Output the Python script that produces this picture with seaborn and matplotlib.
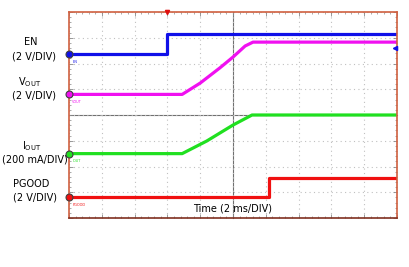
import matplotlib
matplotlib.use("Agg")
import matplotlib.pyplot as plt
import seaborn as sns
import numpy as np
import pandas as pd

sns.set_theme(style="white")
plt.rcParams['font.family'] = ['DejaVu Sans']
plt.rcParams['text.color'] = 'black'

# Data in scope divisions (x: 0..10 div, 2 ms/div; y: 0..8 div)
en_x = [0.0, 3.0, 3.0, 10.0]
en_y = [6.37, 6.37, 7.15, 7.15]
vout_x = [0.0, 3.45, 4.0, 4.6, 5.0, 5.37, 5.61, 10.0]
vout_y = [4.80, 4.80, 5.24, 5.83, 6.25, 6.68, 6.83, 6.83]
iout_x = [0.0, 3.45, 4.2, 5.0, 5.58, 10.0]
iout_y = [2.50, 2.50, 2.99, 3.61, 4.00, 4.00]
pg_x = [0.0, 6.1, 6.1, 10.0]
pg_y = [0.82, 0.82, 1.55, 1.55]

channels = ["EN", "VOUT", "IOUT", "PGOOD"]
colors = ["#1010e8", "#f010f0", "#20e020", "#f01010"]
xs = [en_x, vout_x, iout_x, pg_x]
ys = [en_y, vout_y, iout_y, pg_y]

fig = plt.figure(figsize=(4.09, 2.67), dpi=100)
L, B, W, H = 69/409, (267-218)/267, 328/409, 206/267
ax = fig.add_axes([L, B, W, H])

frame = "#d06040"
for s in ax.spines.values():
    s.set_color(frame)
    s.set_linewidth(1.2)
ax.spines['bottom'].set_color("#803020")

ax.set_xlim(0, 10)
ax.set_ylim(0, 8)
ax.set_xticks(np.arange(0, 11, 1))
ax.set_yticks(np.arange(0, 9, 1))
ax.set_xticks(np.arange(0, 10.01, 0.2), minor=True)
ax.set_yticks(np.arange(0, 8.01, 0.2), minor=True)
ax.tick_params(which='both', direction='in', top=True, right=True, bottom=True, left=True,
               labelbottom=False, labelleft=False, color="#888888")
ax.tick_params(which='major', length=3, width=0.6)
ax.tick_params(which='minor', length=1.5, width=0.5)
ax.grid(True, which='major', color="#c0c0c0", linestyle=(0, (1, 3)), linewidth=0.8)

# center graticule lines with ticks
ax2 = fig.add_axes([L, B, W, H], sharex=ax, sharey=ax)
ax2.patch.set_visible(False)
for k in ['top', 'right']:
    ax2.spines[k].set_visible(False)
ax2.spines['left'].set_position(('data', 5))
ax2.spines['bottom'].set_position(('data', 4))
ax2.spines['left'].set_color("#707070")
ax2.spines['bottom'].set_color("#707070")
ax2.spines['left'].set_linewidth(0.8)
ax2.spines['bottom'].set_linewidth(0.8)
ax2.tick_params(which='both', direction='inout', labelbottom=False, labelleft=False, color="#707070")
ax2.tick_params(which='major', length=4, width=0.6)
ax2.tick_params(which='minor', length=3, width=0.5)
ax2.set_zorder(0)
ax.set_zorder(1)
ax.patch.set_visible(False)

for name, c, x, y in zip(channels, colors, xs, ys):
    df = pd.DataFrame({"t": x, "v": y})
    sns.lineplot(data=df, x="t", y="v", ax=ax, color=c, linewidth=2.3, estimator=None, sort=False)
    ax.plot([x[0]], [y[0]], 'o', ms=5, mfc=c, mec="#404040", mew=0.8, clip_on=False, zorder=5)
    ax.text(x[0] + 0.1, y[0] - 0.3, name, fontsize=2.5, color=c, va='center', ha='left')
ax.set_xlabel("")
ax.set_ylabel("")

# trigger markers
ax.plot([3.0], [8.0], marker='v', ms=3, color="#e01010", clip_on=False, zorder=6)
ax.plot([9.95], [6.6], marker='<', ms=3, color="#1010e8", clip_on=False, zorder=6)

# left labels
fs = 7
def fx(px):
    return px / 409
def fy(py):
    return 1 - py / 267
fig.text(fx(31), fy(42), "EN", fontsize=fs, ha='center', va='center')
fig.text(fx(34), fy(56), "(2 V/DIV)", fontsize=fs, ha='center', va='center')
fig.text(fx(30), fy(82), r"V$_{\mathregular{OUT}}$", fontsize=fs, ha='center', va='center')
fig.text(fx(34), fy(96), "(2 V/DIV)", fontsize=fs, ha='center', va='center')
fig.text(fx(32), fy(146), r"I$_{\mathregular{OUT}}$", fontsize=fs, ha='center', va='center')
fig.text(fx(35), fy(160), "(200 mA/DIV)", fontsize=fs, ha='center', va='center')
fig.text(fx(31), fy(184), "PGOOD", fontsize=fs, ha='center', va='center')
fig.text(fx(35), fy(198), "(2 V/DIV)", fontsize=fs, ha='center', va='center')
ax.text(5.0, 0.38, "Time (2 ms/DIV)", fontsize=fs, ha='center', va='center', zorder=7)

fig.savefig("out.png", dpi=100)
